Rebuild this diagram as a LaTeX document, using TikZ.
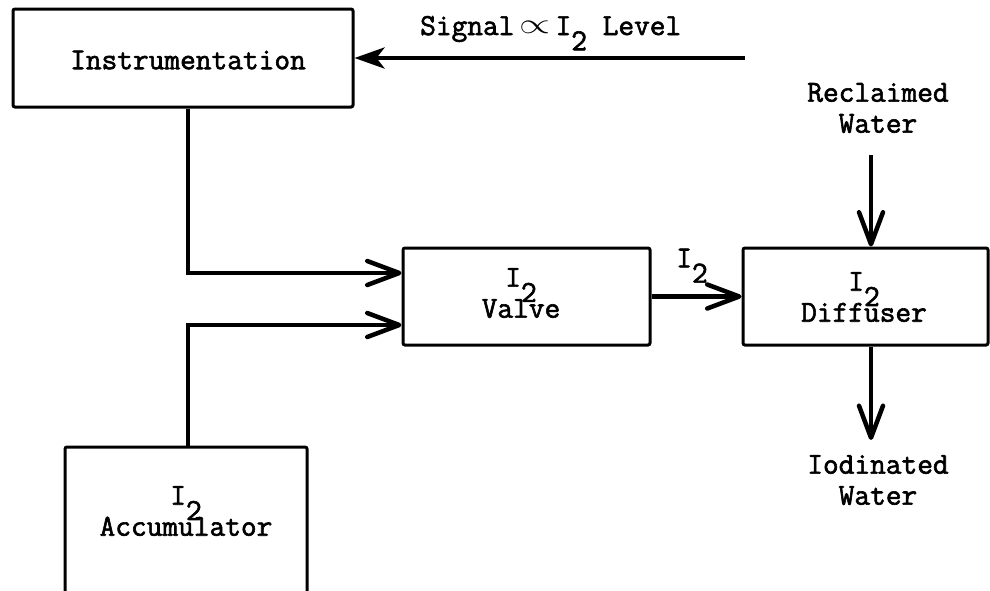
\documentclass[tikz,border=0pt]{standalone}
\usepackage{fontspec}
\usepackage{graphicx}
\setmonofont{Latin Modern Mono}[FakeBold=2]
\usetikzlibrary{arrows.meta}
% typewriter-style subscript: a full-size digit dropped half a line
\newcommand\lowtwo{\raisebox{-0.5em}[0pt][0pt]{2}}
\tikzset{
  every node/.style={font=\ttfamily\fontsize{30.5}{31}\selectfont, inner sep=0pt},
  block/.style={draw, line width=3pt, rounded corners=2pt},
  flow/.style={line width=4.5pt, -{Straight Barb[length=32pt,width=24pt,line width=4.5pt,round]}},
  wire/.style={line width=4.5pt, line join=miter},
  txt/.style={align=center},
}
\begin{document}
\begin{tikzpicture}[x=1pt,y=-1pt]
  \clip (0,0) rectangle (990,590);
  \fill[white] (0,0) rectangle (990,590);

  % boxes
  \node[block, minimum width=340pt, minimum height=98pt] (instr) at (183,58) {};
  \node[block, minimum width=247pt, minimum height=97pt] (valve) at (526.5,296.5) {};
  \node[block, minimum width=245pt, minimum height=97pt] (diff) at (865.5,296.5) {};
  \node[block, minimum width=242pt, minimum height=180pt] (accu) at (186,537) {};

  % box texts
  \node (instrtxt) at (188,60) {Instrumentation};
  \node[txt] (valvetxt) at (521,293) {I\lowtwo\\[0pt]Valve};
  \node[txt] (difftxt) at (864,297) {I\lowtwo\\[0pt]Diffuser};
  \node[txt] (accutxt) at (186,511) {I\lowtwo\\[0pt]Accumulator};

  % free labels
  \node[anchor=west] (sigtxt) at (420,29) {Signal\,\raisebox{0.05em}{\scalebox{1.6}[1.15]{$\propto$}}\,I\lowtwo{} Level};
  \node (i2txt) at (692,258) {I\lowtwo};
  \node[txt] (rwtxt) at (878,108) {Reclaimed\\Water};
  \node[txt] (iwtxt) at (878,480) {Iodinated\\Water};

  % connector end points
  \coordinate (sig) at (745,58);
  \coordinate (vx) at (188,0);
  \coordinate (vin1) at (0,273);
  \coordinate (vin2) at (0,325);
  \coordinate (rwin) at (871,155);
  \coordinate (iwout) at (871,440);

  % connectors
  \draw[line width=4.5pt, -{Stealth[length=30pt,width=21pt,inset=8pt]}] (sig) -- (instr);
  \draw[wire] (instr.south -| vx) -- (vx |- vin1) -- ([xshift=-3pt]valve.west |- vin1);
  \draw[flow] (vx |- vin1) -- (valve.west |- vin1);
  \draw[wire] (accu.north -| vx) -- (vx |- vin2);
  \draw[flow] ([xshift=-2.25pt]vx |- vin2) -- (valve.west |- vin2);
  \draw[flow] (valve) -- (diff);
  \draw[flow] (rwin) -- (rwin |- diff.north);
  \draw[flow] (diff.south -| iwout) -- (iwout);
\end{tikzpicture}
\end{document}
